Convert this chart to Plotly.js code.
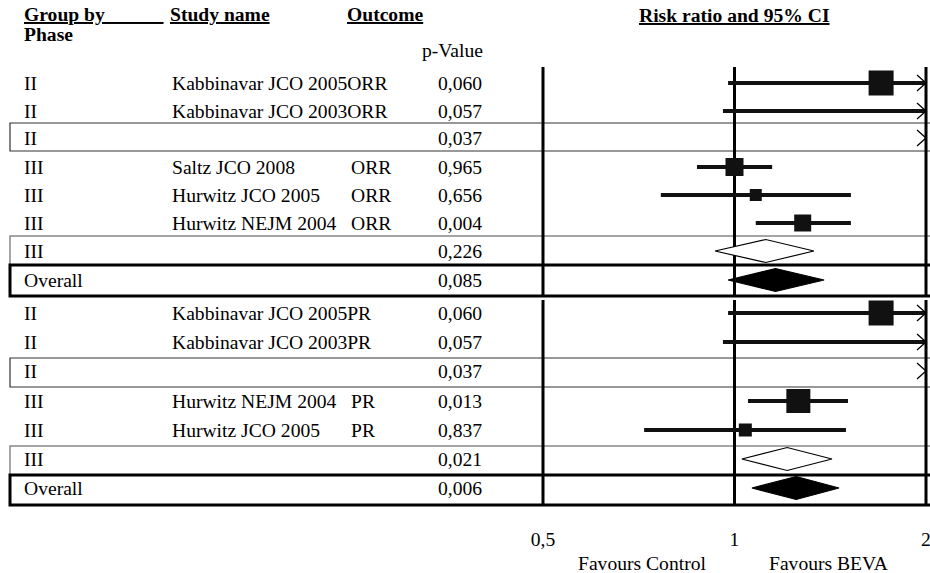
<!DOCTYPE html>
<html><head><meta charset="utf-8">
<script src="https://cdn.plot.ly/plotly-3.0.1.min.js"></script>
<style>html,body{margin:0;padding:0;background:#fff}#chart{width:930px;height:573px}</style>
</head><body><div id="chart"></div>
<script>
// ---------------- DATA ----------------
const phases    = ['II','II','II','III','III','III','III','Overall','II','II','II','III','III','III','Overall'];
const studies   = ['Kabbinavar JCO 2005','Kabbinavar JCO 2003','','Saltz JCO 2008','Hurwitz JCO 2005','Hurwitz NEJM 2004','','',
                   'Kabbinavar JCO 2005','Kabbinavar JCO 2003','','Hurwitz NEJM 2004','Hurwitz JCO 2005','',''];
const outcomes  = ['ORR','ORR','','ORR','ORR','ORR','','','PR','PR','','PR','PR','',''];
const pValues   = ['0,060','0,057','0,037','0,965','0,656','0,004','0,226','0,085','0,060','0,057','0,037','0,013','0,837','0,021','0,006'];
const rowKind   = ['study','study','subgroup','study','study','study','subgroup','overall','study','study','subgroup','study','study','subgroup','overall'];
const riskRatio = [1.70, 2.40, 2.30, 1.00, 1.08, 1.28, 1.12, 1.16, 1.70, 2.40, 2.30, 1.26, 1.04, 1.21, 1.25];
const lowerCI   = [0.977,0.959,2.05,0.873,0.766,1.080,0.932,0.977,0.977,0.959,2.05,1.050,0.721,1.027,1.065];
const upperCI   = [3.00, 6.00, 2.60,1.146,1.524,1.524,1.333,1.383,3.00, 6.00, 2.60,1.508,1.497,1.423,1.460];
const relWeight = [25, 20, 0, 18, 12, 17, 0, 0, 25, 20, 0, 24, 13, 0, 0];
const tickValues = [0.5, 1, 2];
const tickLabels = ['0,5', '1', '2'];

// ---------------- LAYOUT / STYLE ----------------
const W = 930, H = 573;
const FONT = 'Liberation Serif, Times New Roman, serif';
const FS = 19.6;
const xMin = 0.5, xMax = 2;
const pad = 0.006;
const rowY = [83,111,138,167,195,223,251,280, 313,342,371,401,430,459,488];
const sectionSpans = [[67,297],[300,505]];
const boxes = [
  {y0:123,y1:151,color:'#333',w:1.2},
  {y0:236,y1:265,color:'#888',w:1.5},
  {y0:265,y1:296,color:'#000',w:3},
  {y0:358,y1:387,color:'#333',w:1.2},
  {y0:446,y1:475,color:'#888',w:1.5},
  {y0:475,y1:505,color:'#000',w:3}
];
const pxPerLog = (926 - 543) / (Math.log10(xMax) - Math.log10(xMin));
const domL = (543 - pad * pxPerLog) / W, domR = (926 + pad * pxPerLog) / W;

const traces = [];
// reference vertical lines
{
  const x = [], y = [];
  tickValues.forEach(v => sectionSpans.forEach(s => { x.push(v, v, null); y.push(s[0], s[1], null); }));
  traces.push({type:'scatter', mode:'lines', x, y, line:{color:'#000', width:3}, hoverinfo:'skip'});
}
// confidence interval lines (study rows)
{
  const x = [], y = [];
  rowKind.forEach((k, i) => {
    if (k !== 'study') return;
    x.push(Math.max(lowerCI[i], xMin), Math.min(upperCI[i], xMax), null);
    y.push(rowY[i], rowY[i], null);
  });
  traces.push({type:'scatter', mode:'lines', x, y, line:{color:'#111', width:4}, hoverinfo:'skip'});
}
// squares
{
  const x = [], y = [], s = [];
  rowKind.forEach((k, i) => {
    if (k !== 'study') return;
    x.push(riskRatio[i]); y.push(rowY[i]); s.push(relWeight[i]);
  });
  traces.push({type:'scatter', mode:'markers', x, y, marker:{symbol:'square', size:s, color:'#111', opacity:1, line:{width:0}}, hoverinfo:'skip'});
}
// diamonds
function diamondTrace(kind, fill) {
  const x = [], y = [], h = 11.5;
  rowKind.forEach((k, i) => {
    if (k !== kind || lowerCI[i] >= xMax) return;
    x.push(lowerCI[i], riskRatio[i], upperCI[i], riskRatio[i], lowerCI[i], null);
    y.push(rowY[i], rowY[i] - h, rowY[i], rowY[i] + h, rowY[i], null);
  });
  return {type:'scatter', mode:'lines', x, y, fill:'toself', fillcolor:fill, line:{color:'#000', width:1.2}, hoverinfo:'skip'};
}
traces.push(diamondTrace('subgroup', '#fff'));
traces.push(diamondTrace('overall', '#000'));
// arrows for values beyond axis max
{
  const x = [], y = [], k = Math.pow(2, -9 / ((926 - 543) / 2));
  rowKind.forEach((kd, i) => {
    if (upperCI[i] <= xMax) return;
    x.push(xMax * k, xMax, xMax * k, null);
    y.push(rowY[i] - 8, rowY[i], rowY[i] + 8, null);
  });
  traces.push({type:'scatter', mode:'lines', x, y, line:{color:'#000', width:1.3}, hoverinfo:'skip'});
}

const shapes = boxes.map(b => ({type:'rect', xref:'paper', yref:'y', x0:10/W, x1:1.02, y0:b.y0, y1:b.y1,
  line:{color:b.color, width:b.w}, fillcolor:'rgba(0,0,0,0)', layer:'below'}));

const ann = [];
function txt(text, px, py, anchor, extra) {
  ann.push(Object.assign({text, x:px/W, y:py, xref:'paper', yref:'y', xanchor:anchor||'left', yanchor:'middle',
    showarrow:false, font:{family:FONT, size:FS, color:'#000'}}, extra||{}));
}
const NB = '\u00a0';
txt('<b><u>Group by' + NB.repeat(12) + '</u></b>', 22, 14);
txt('<b>Phase</b>', 22, 34);
txt('<b><u>Study name</u></b>', 168, 14);
txt('<b><u>Outcome</u></b>', 345, 14);
txt('p-Value', 420, 50);
txt('<b><u>Risk ratio and 95% CI</u></b>', 734, 15, 'center');
txt('Favours Control', 642, 563, 'center');
txt('Favours BEVA', 828, 563, 'center');
rowY.forEach((ry, i) => {
  txt(phases[i], 22, ry);
  if (studies[i]) {
    const overflow = studies[i].length >= 19;
    txt(overflow ? studies[i] + outcomes[i] : studies[i], 170, ry);
    if (!overflow && outcomes[i]) txt(outcomes[i], 349, ry);
  }
  txt(pValues[i], 484, ry, 'right');
});

const layout = {
  width:W, height:H, margin:{l:0,r:0,t:0,b:0}, paper_bgcolor:'#fff', plot_bgcolor:'rgba(0,0,0,0)',
  showlegend:false, separators:',.',
  xaxis:{type:'log', range:[Math.log10(xMin)-pad, Math.log10(xMax)+pad], domain:[domL, domR],
    anchor:'free', position:0.083, tickvals:tickValues, ticktext:tickLabels, ticks:'', showgrid:false,
    zeroline:false, showline:false, ticklabeloverflow:'allow', automargin:false,
    tickfont:{family:FONT, size:FS, color:'#000'}, fixedrange:true},
  yaxis:{range:[H,0], domain:[0,1], visible:false, fixedrange:true},
  shapes, annotations:ann
};
Plotly.newPlot('chart', traces, layout, {displayModeBar:false, staticPlot:true});
</script></body></html>
